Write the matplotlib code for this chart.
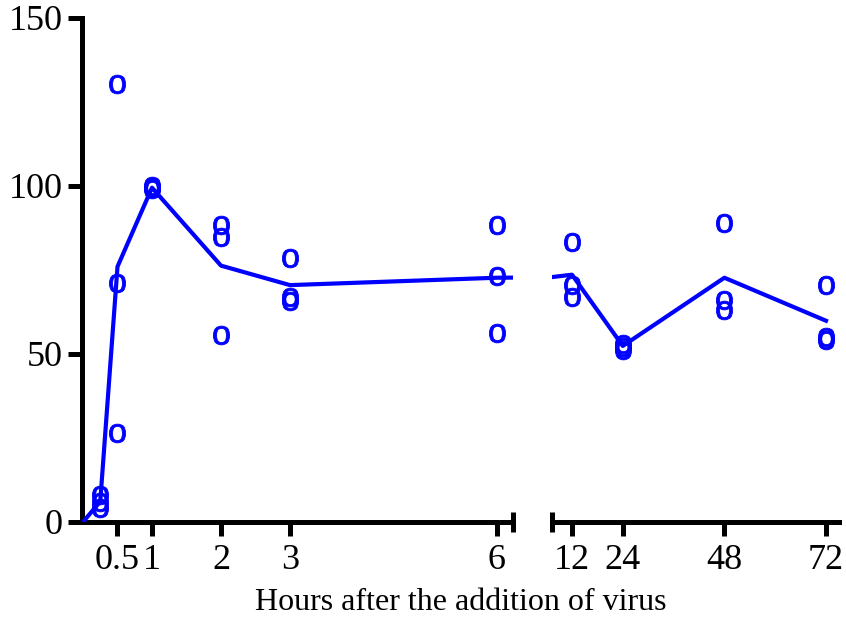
import numpy as np
import matplotlib
matplotlib.use('Agg')
import matplotlib.pyplot as plt

plt.rcParams['font.family'] = ['Liberation Serif', 'DejaVu Serif']
plt.rcParams['mathtext.fontset'] = 'custom'
plt.rcParams['mathtext.sf'] = 'Liberation Sans'

# 时间点 (小时) 与三个重复值
hours = [0.25, 0.5, 1, 2, 3, 6, 12, 24, 48, 72]
rep1 = [8.0, 130.4, 100.0, 88.4, 78.6, 88.4, 83.3, 53.0, 89.0, 70.5]
rep2 = [6.0, 71.1, 99.5, 84.8, 67.0, 73.2, 70.5, 52.0, 66.1, 55.1]
rep3 = [4.2, 26.5, 99.0, 55.7, 65.8, 56.3, 67.0, 51.3, 63.1, 54.2]

# 平均值曲线 (从0开始)
line_hours = [0, 0.25, 0.5, 1, 2, 3, 6, 12, 24, 48, 72]
line_mean = [0, 6.1, 76.0, 99.5, 76.3, 70.5, 72.7, 73.6, 52.4, 72.7, 59.9]

left_ticks = [0.5, 1, 2, 3, 6]
left_labels = ['0.5', '1', '2', '3', '6']
right_ticks = [12, 24, 48, 72]
right_labels = ['12', '24', '48', '72']

blue = '#0000ff'
lw_axis = 3.6
fs = 26

fig = plt.figure(figsize=(8.46, 6.23), dpi=100)
ax1 = fig.add_axes([82 / 846, 1 - 522 / 623, 431 / 846, 504 / 623])
ax2 = fig.add_axes([552 / 846, 1 - 522 / 623, 287 / 846, 504 / 623])

h = np.array(hours)
for ax, sel in ((ax1, h <= 6), (ax2, h >= 12)):
    ax.plot(line_hours, line_mean, color=blue, lw=3.0, zorder=3)
    for rep in (rep1, rep2, rep3):
        ax.plot(h[sel], np.array(rep)[sel], ls='none', marker=r'$\mathsf{o}$',
                ms=13.5, color=blue, mew=0.6, zorder=4)
    ax.set_ylim(0, 150)
    ax.spines['top'].set_visible(False)
    ax.spines['right'].set_visible(False)
    ax.spines['bottom'].set_linewidth(lw_axis)
    ax.spines['left'].set_linewidth(lw_axis)
    ax.tick_params(direction='out', length=10, width=lw_axis, labelsize=fs, pad=4)
    ax.patch.set_visible(False)

ax1.set_xlim(-0.0145, 6.232)
ax1.set_xticks(left_ticks)
ax1.set_xticklabels(left_labels)
ax1.set_yticks([0, 50, 100, 150])
ax1.tick_params(axis='x', pad=6)

ax2.set_xlim(7.28, 75.07)
ax2.set_xticks(right_ticks)
ax2.set_xticklabels(right_labels)
ax2.spines['left'].set_visible(False)
ax2.set_yticks([])
ax2.tick_params(axis='x', pad=6)

# 断轴标记
d = 0.019
ax1.plot([1, 1], [-d, d], transform=ax1.transAxes, color='black',
         lw=lw_axis, clip_on=False, solid_capstyle='butt')
ax2.plot([0, 0], [-d, d], transform=ax2.transAxes, color='black',
         lw=lw_axis, clip_on=False, solid_capstyle='butt')

fig.text(461 / 846, 1 - 610 / 623, 'Hours after the addition of virus',
         ha='center', va='baseline', fontsize=23)

fig.savefig('out.png', dpi=100)
